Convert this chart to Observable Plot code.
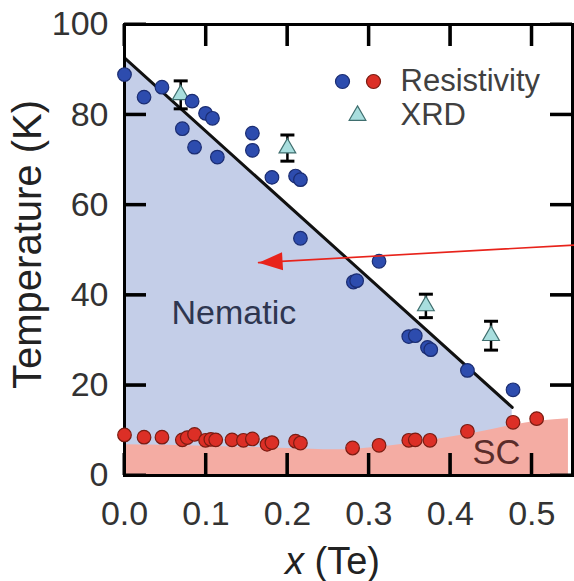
<!DOCTYPE html>
<html>
<head>
<meta charset="utf-8">
<script src="https://cdn.jsdelivr.net/npm/d3@7"></script>
<script src="https://cdn.jsdelivr.net/npm/@observablehq/plot@0.6"></script>
<style>
  html, body { margin: 0; padding: 0; background: #fff; }
  body { font-family: "Liberation Sans", Arial, sans-serif; }
</style>
</head>
<body>
<div id="chart"></div>
<script>
// ---- Data ----
// Resistivity, nematic transition (blue)
const blueX = [0.000, 0.024, 0.046, 0.071, 0.083, 0.086, 0.0995, 0.108, 0.114, 0.157, 0.157, 0.181, 0.210, 0.216, 0.216, 0.281, 0.285, 0.3125, 0.349, 0.357, 0.372, 0.376, 0.421, 0.477];
const blueT = [88.9, 83.9, 86.1, 76.9, 83.0, 72.8, 80.3, 79.2, 70.6, 75.9, 72.1, 66.1, 66.4, 65.6, 52.6, 42.9, 43.2, 47.5, 30.8, 31.0, 28.4, 27.9, 23.3, 19.0];
// Resistivity, superconducting transition (red)
const redX = [0.000, 0.024, 0.046, 0.071, 0.077, 0.086, 0.0995, 0.106, 0.112, 0.132, 0.146, 0.157, 0.175, 0.181, 0.210, 0.216, 0.280, 0.3125, 0.349, 0.357, 0.375, 0.421, 0.477, 0.506];
const redT = [9.0, 8.5, 8.5, 7.9, 8.4, 9.1, 7.8, 8.0, 7.9, 7.9, 7.8, 8.1, 6.9, 7.3, 7.6, 7.2, 6.1, 6.7, 7.8, 7.9, 7.8, 9.8, 11.8, 12.6];
// XRD (triangles with error bars)
const xrdX = [0.069, 0.200, 0.370, 0.450];
const xrdT = [84.4, 72.6, 37.6, 31.0];
const xrdErr = [3.1, 2.9, 2.6, 3.2];
// Nematic boundary line
const nematicX = [0.0, 0.476];
const nematicT = [92.6, 15.1];
// Superconducting dome (upper edge of pink region)
const scX = [0.0, 0.10, 0.20, 0.26, 0.30, 0.35, 0.39, 0.43, 0.47, 0.51, 0.545];
const scT = [6.8, 6.5, 6.0, 5.7, 6.1, 7.1, 8.2, 9.4, 10.9, 12.1, 12.6];
// Annotation arrow (start, tip)
const arrowX = [0.5528, 0.1646];
const arrowT = [51.1, 47.2];
// Ticks and labels
const xDomain = [0, 0.55];
const yDomain = [0, 100];
const xTicks = [0.0, 0.1, 0.2, 0.3, 0.4, 0.5];
const yTicks = [0, 20, 40, 60, 80, 100];
const legendLabels = ["Resistivity", "XRD"];
const regionLabels = ["Nematic", "SC"];
const xTitle = "x (Te)";
const yTitle = "Temperature (K)";

// ---- Layout & styles ----
const W = 574, H = 581, ML = 124, MR = 2, MT = 24, MB = 106;
const FRAME_W = W - ML - MR, FRAME_H = H - MT - MB;
const TICK = 22; // inward tick length in px
const yTickLen = TICK * (yDomain[1] - yDomain[0]) / FRAME_H;
const xTickLen = TICK * (xDomain[1] - xDomain[0]) / FRAME_W;

// ---- Tables built from arrays ----
const blue = blueX.map((x, i) => ({x, T: blueT[i]}));
const red = redX.map((x, i) => ({x, T: redT[i]}));
const xrd = xrdX.map((x, i) => ({x, T: xrdT[i], lo: xrdT[i] - xrdErr[i], hi: xrdT[i] + xrdErr[i]}));
const nematic = nematicX.map((x, i) => ({x, T: nematicT[i]}));
const sc = scX.map((x, i) => ({x, T: scT[i]}));
const arrow = arrowX.map((x, i) => ({x, T: arrowT[i]}));
const xTickRows = xTicks.map(v => ({x: v, b1: yDomain[0], b2: yDomain[0] + yTickLen, t1: yDomain[1] - yTickLen, t2: yDomain[1]}));
const yTickRows = yTicks.map(v => ({y: v, l1: xDomain[0], l2: xDomain[0] + xTickLen, r1: xDomain[1] - xTickLen, r2: xDomain[1]}));

const C = {
  blueFill: "#c4cee8", pinkFill: "#f4aca3",
  blueDot: "#2d4cae", blueStroke: "#1b2d72",
  redDot: "#dc2f26", redStroke: "#7a1c12",
  tri: "#a8dede", triStroke: "#3f6e6e",
  arrow: "#e8231b", text: "#333333"
};

const capSymbol = {
  draw(ctx, size) { const w = Math.sqrt(size / Math.PI); ctx.moveTo(-w, 0); ctx.lineTo(w, 0); }
};
const arrowHead = {
  draw(ctx) {
    const L = 24, Wd = 9, a = -Math.atan(18 / 316);
    const c = Math.cos(a), s = Math.sin(a);
    const pts = [[0, 0], [L, -Wd], [L, Wd]].map(([px, py]) => [px * c - py * s, px * s + py * c]);
    ctx.moveTo(pts[0][0], pts[0][1]);
    ctx.lineTo(pts[1][0], pts[1][1]);
    ctx.lineTo(pts[2][0], pts[2][1]);
    ctx.closePath();
  }
};

const plot = Plot.plot({
  width: W,
  height: H,
  marginLeft: ML,
  marginRight: MR,
  marginTop: MT,
  marginBottom: MB,
  style: { fontFamily: "Liberation Sans, Arial, sans-serif", background: "#fff", color: "#000" },
  x: { domain: xDomain, axis: null },
  y: { domain: yDomain, axis: null },
  marks: [
    Plot.areaY(nematic, { x: "x", y1: 0, y2: "T", fill: C.blueFill }),
    Plot.areaY(sc, { x: "x", y1: 0, y2: "T", fill: C.pinkFill, curve: "monotone-x" }),
    Plot.line(nematic, { x: "x", y: "T", stroke: "#111", strokeWidth: 3 }),
    // inward ticks on all four sides
    Plot.ruleX(xTickRows, { x: "x", y1: "b1", y2: "b2", stroke: "#000", strokeWidth: 3 }),
    Plot.ruleX(xTickRows, { x: "x", y1: "t1", y2: "t2", stroke: "#000", strokeWidth: 3 }),
    Plot.ruleY(yTickRows, { y: "y", x1: "l1", x2: "l2", stroke: "#000", strokeWidth: 3 }),
    Plot.ruleY(yTickRows, { y: "y", x1: "r1", x2: "r2", stroke: "#000", strokeWidth: 3 }),
    // tick labels
    Plot.axisX(xTicks, { anchor: "bottom", tickSize: 0, tickPadding: 25, fontSize: 34, fill: C.text, tickFormat: d => d.toFixed(1), label: null }),
    Plot.axisY(yTicks, { anchor: "left", tickSize: 0, tickPadding: 16, fontSize: 34, fill: C.text, label: null }),
    Plot.frame({ stroke: "#000", strokeWidth: 3 }),
    // XRD error bars + triangles
    Plot.ruleX(xrd, { x: "x", y1: "lo", y2: "hi", stroke: "#000", strokeWidth: 2.5 }),
    Plot.dot(xrd, { x: "x", y: "lo", symbol: capSymbol, r: 7, stroke: "#000", strokeWidth: 3, fill: "none" }),
    Plot.dot(xrd, { x: "x", y: "hi", symbol: capSymbol, r: 7, stroke: "#000", strokeWidth: 3, fill: "none" }),
    Plot.dot(xrd, { x: "x", y: "T", symbol: "triangle", r: 6.2, fill: C.tri, stroke: C.triStroke, strokeWidth: 1.2 }),
    // resistivity points
    Plot.dot(red, { x: "x", y: "T", r: 6.8, fill: C.redDot, stroke: C.redStroke, strokeWidth: 1.2 }),
    Plot.dot(blue, { x: "x", y: "T", r: 6.8, fill: C.blueDot, stroke: C.blueStroke, strokeWidth: 1.2 }),
    // annotation arrow
    Plot.line(arrow, { x: "x", y: "T", stroke: C.arrow, strokeWidth: 1.6 }),
    Plot.dot(arrow.slice(1), { x: "x", y: "T", symbol: arrowHead, fill: C.arrow, stroke: "none" }),
    // region labels
    Plot.text([regionLabels[0]], { text: d => d, frameAnchor: "top-left", dx: 47, dy: 289, textAnchor: "start", lineAnchor: "middle", fontSize: 34, fill: "#2e3650" }),
    Plot.text([regionLabels[1]], { text: d => d, frameAnchor: "top-left", dx: 348, dy: 428, textAnchor: "start", lineAnchor: "middle", fontSize: 34.5, fill: "#5a2c2a" }),
    // legend
    Plot.dot([0], { frameAnchor: "top-left", dx: 218, dy: 57, r: 7, fill: C.blueDot, stroke: C.blueStroke, strokeWidth: 1.2 }),
    Plot.dot([0], { frameAnchor: "top-left", dx: 249, dy: 57, r: 7, fill: C.redDot, stroke: C.redStroke, strokeWidth: 1.2 }),
    Plot.dot([0], { frameAnchor: "top-left", dx: 233, dy: 91, symbol: "triangle", r: 6.2, fill: C.tri, stroke: C.triStroke, strokeWidth: 1.2 }),
    Plot.text([legendLabels[0]], { text: d => d, frameAnchor: "top-left", dx: 276, dy: 57, textAnchor: "start", lineAnchor: "middle", fontSize: 31, fill: "#404040" }),
    Plot.text([legendLabels[1]], { text: d => d, frameAnchor: "top-left", dx: 276, dy: 91, textAnchor: "start", lineAnchor: "middle", fontSize: 31, fill: "#404040" }),
    // axis titles
    Plot.text([xTitle], { text: d => d, frameAnchor: "bottom", dx: -16, dy: 86, textAnchor: "middle", lineAnchor: "middle", fontSize: 38, fill: "#222" }),
    Plot.text([yTitle], { text: d => d, frameAnchor: "left", rotate: -90, dx: -96, dy: -5.5, textAnchor: "middle", lineAnchor: "middle", fontSize: 40, fill: "#222" })
  ]
});

// italicise the variable "x" in the x-axis title
d3.select(plot).selectAll("text").filter(function () { return this.textContent === xTitle; }).each(function () {
  const t = d3.select(this);
  t.text(null);
  t.append("tspan").attr("font-style", "italic").text("x");
  t.append("tspan").text(" (Te)");
});

// inward ticks placed with Plot's own x / y scales, appended on top
try {
  const sx = plot.scale("x"), sy = plot.scale("y");
  const g = d3.select(plot).append("g").attr("aria-label", "inward ticks")
    .attr("stroke", "#000").attr("stroke-width", 3);
  const y0 = sy.apply(yDomain[0]), y1 = sy.apply(yDomain[1]);
  const x0 = sx.apply(xDomain[0]), x1 = sx.apply(xDomain[1]);
  for (const v of xTicks) {
    const px = sx.apply(v);
    g.append("line").attr("x1", px).attr("x2", px).attr("y1", y0).attr("y2", y0 - TICK);
    g.append("line").attr("x1", px).attr("x2", px).attr("y1", y1).attr("y2", y1 + TICK);
  }
  for (const v of yTicks) {
    const py = sy.apply(v);
    g.append("line").attr("y1", py).attr("y2", py).attr("x1", x0).attr("x2", x0 + TICK);
    g.append("line").attr("y1", py).attr("y2", py).attr("x1", x1).attr("x2", x1 - TICK);
  }
} catch (e) { /* keep the chart even if scale lookup fails */ }

document.getElementById("chart").appendChild(plot);
</script>
</body>
</html>
